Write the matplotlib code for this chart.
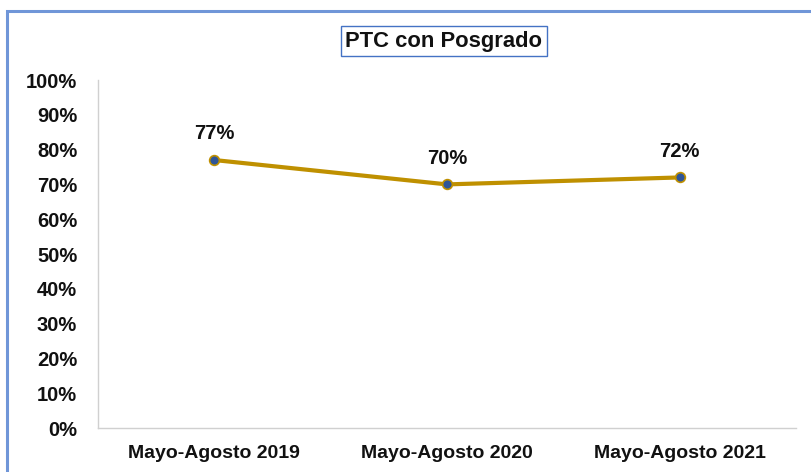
import matplotlib.pyplot as plt
from matplotlib.patches import Rectangle
from matplotlib.ticker import FixedLocator

# Data
periods = ['Mayo-Agosto 2019', 'Mayo-Agosto 2020', 'Mayo-Agosto 2021']
ptc_posgrado = [0.77, 0.70, 0.72]
y_ticks = [i / 10 for i in range(11)]
title = 'PTC con Posgrado'

plt.rcParams['font.family'] = ['Liberation Sans', 'DejaVu Sans']

fig = plt.figure(figsize=(8.12, 4.72), dpi=100)
ax = fig.add_axes([98 / 812, 44 / 472, 698 / 812, 348 / 472])

x = range(len(periods))
ax.plot(x, ptc_posgrado, color='#BF9000', linewidth=3, marker='o',
        markersize=7, markerfacecolor='#2F5597', markeredgecolor='#BF9000',
        markeredgewidth=1.2, zorder=3)

for xi, v in zip(x, ptc_posgrado):
    ax.annotate(f'{v:.0%}', (xi, v), xytext=(0, 12), textcoords='offset points',
                ha='center', va='bottom', fontsize=14.5, fontweight='bold',
                color='#111111')

ax.set_xlim(-0.5, len(periods) - 0.5)
ax.set_ylim(0, 1)
ax.set_xticks(list(x))
ax.set_xticklabels(periods, fontsize=14, fontweight='bold', color='#111111')
ax.yaxis.set_major_locator(FixedLocator(y_ticks))
ax.set_yticklabels([f'{t:.0%}' for t in y_ticks], fontsize=14.5,
                   fontweight='bold', color='#111111')
ax.tick_params(axis='y', length=0, pad=15)
ax.tick_params(axis='x', length=0, pad=12)

for side in ['top', 'right']:
    ax.spines[side].set_visible(False)
for side in ['left', 'bottom']:
    ax.spines[side].set_color('#D0D0D0')
    ax.spines[side].set_linewidth(1)

# title with box
fig.text(444 / 812, (472 - 41) / 472, title, ha='center', va='center',
         fontsize=15.8, fontweight='bold', color='#111111',
         bbox=dict(boxstyle='square,pad=0.22', facecolor='white',
                   edgecolor='#4472C4', linewidth=1))

# outer chart border (cut off on right and bottom)
fig.patches.append(Rectangle((7 / 812, -0.2), 1.2, 0.2 + (472 - 11) / 472,
                             transform=fig.transFigure, fill=False,
                             edgecolor='#7096D8', linewidth=2.2))

fig.savefig('out.png', dpi=100)
